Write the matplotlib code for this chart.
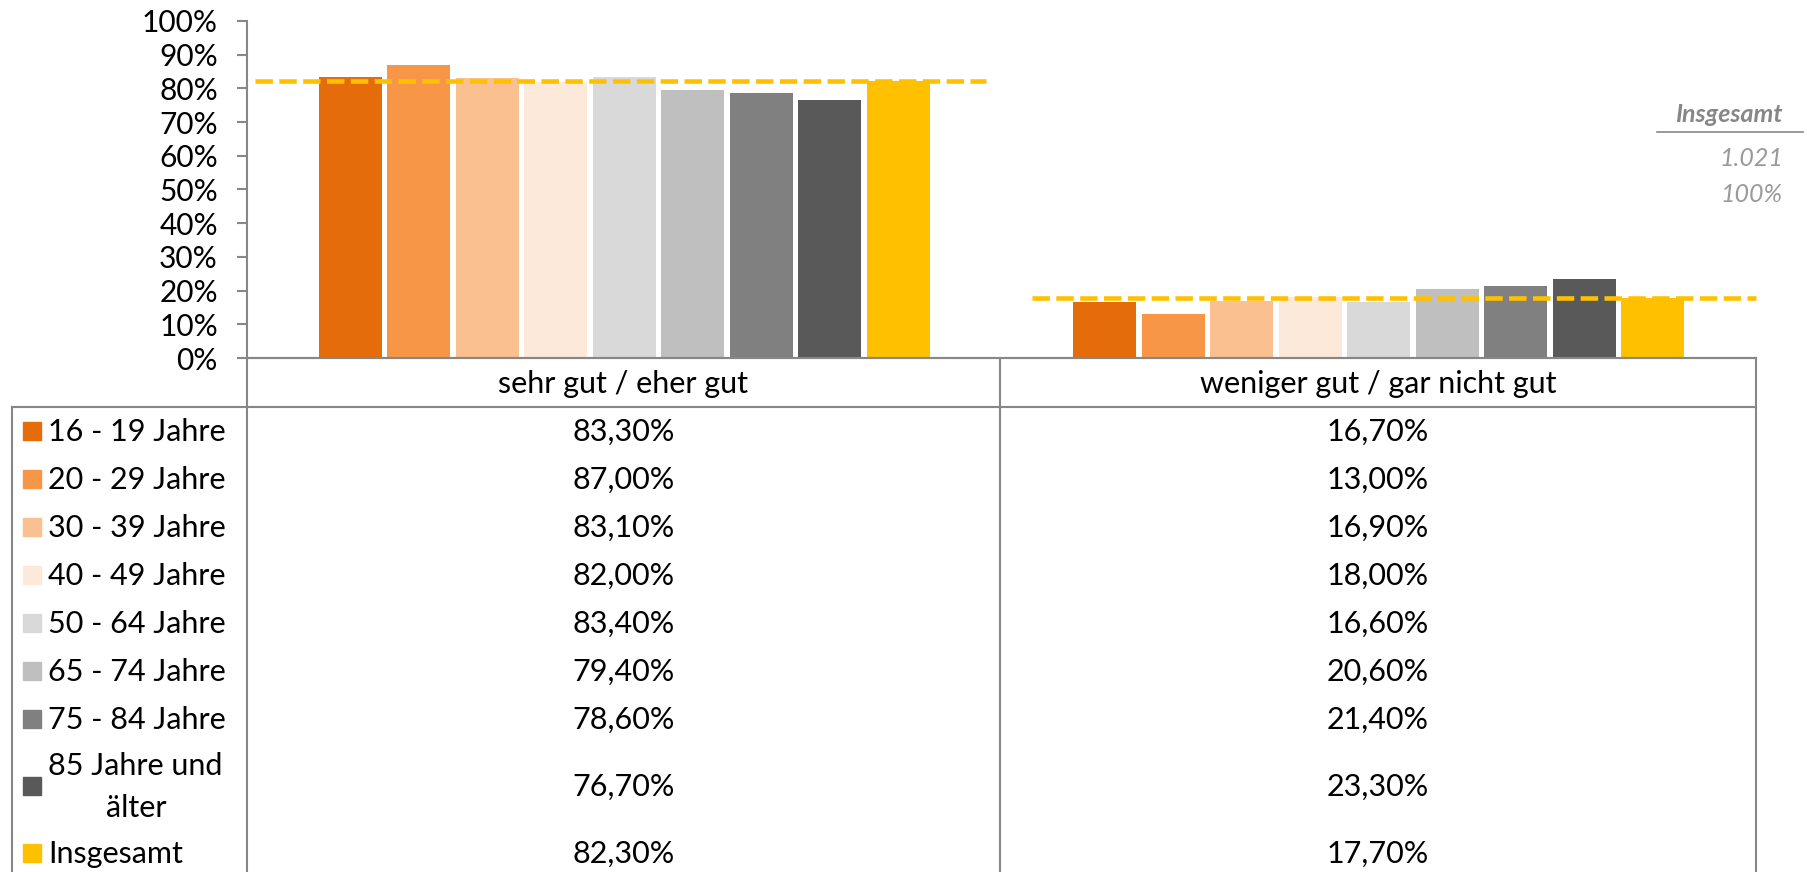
import numpy as np
import matplotlib
matplotlib.use('Agg')
from matplotlib import pyplot as plt
from matplotlib.patches import Rectangle

plt.rcParams['font.family'] = ['Lato', 'DejaVu Sans']

# data
categories = ["sehr gut / eher gut", "weniger gut / gar nicht gut"]
groups = ["16 - 19 Jahre", "20 - 29 Jahre", "30 - 39 Jahre", "40 - 49 Jahre",
          "50 - 64 Jahre", "65 - 74 Jahre", "75 - 84 Jahre", "85 Jahre und\nälter",
          "Insgesamt"]
sehr_gut = [83.3, 87.0, 83.1, 82.0, 83.4, 79.4, 78.6, 76.7, 82.3]
weniger_gut = [16.7, 13.0, 16.9, 18.0, 16.6, 20.6, 21.4, 23.3, 17.7]
total_n = "1.021"
total_pct = "100%"

colors = ["#E46C0A", "#F79646", "#FAC090", "#FDE9D9", "#D9D9D9",
          "#BFBFBF", "#808080", "#595959", "#FFC000"]
grey = "#878787"
fs = 22

W, H = 1808, 872
fig = plt.figure(figsize=(W / 100, H / 100), dpi=100)

# main bar axes, placed in pixel terms
x0, x1, ytop, ybot = 247, 1756, 21, 358
ax = fig.add_axes([x0 / W, 1 - ybot / H, (x1 - x0) / W, (ybot - ytop) / H])

values = np.array([sehr_gut, weniger_gut])  # shape (2, 9)
slot, bw = 0.0908, 0.084
xc = np.arange(len(categories))
for j in range(len(groups)):
    ax.bar(xc + (j - 4) * slot, values[:, j] / 100, width=bw, color=colors[j], zorder=2)

# Insgesamt reference lines
line_spans = [(-0.49, 0.48), (0.54, 1.5)]
for i, (a, b) in enumerate(line_spans):
    ax.plot([a, b], [values[i, -1] / 100] * 2, color="#FFC000", lw=3.3,
            linestyle=(0, (3.8, 1.4)), solid_capstyle='butt', zorder=3, clip_on=False)

ax.set_xlim(-0.5, 1.5)
ax.set_ylim(0, 1)
ax.set_yticks(np.arange(0, 1.01, 0.1))
ax.set_yticklabels(['%d%%' % v for v in range(0, 101, 10)], fontsize=21.5)
ax.set_xticks([])
for s in ['top', 'right']:
    ax.spines[s].set_visible(False)
for s in ['left', 'bottom']:
    ax.spines[s].set_color(grey)
    ax.spines[s].set_linewidth(1.5)
ax.tick_params(axis='y', length=7, width=1.5, color=grey, pad=14)

# table drawn in pixel coordinates on an overlay
tb = fig.add_axes([0, 0, 1, 1])
tb.set_xlim(0, W)
tb.set_ylim(H, 0)
tb.axis('off')

hdr_top, hdr_bot = 358, 407
col_x = [12, 247, 1000, 1756]
row_h = 48
row_heights = [row_h] * 7 + [86, row_h]
row_edges = [hdr_bot]
for h in row_heights:
    row_edges.append(row_edges[-1] + h)

lw = 1.5
tb.plot([col_x[1], col_x[3]], [hdr_top, hdr_top], color=grey, lw=lw)
tb.plot([col_x[0], col_x[3]], [hdr_bot, hdr_bot], color=grey, lw=lw)
tb.plot([col_x[0], col_x[0]], [hdr_bot, H], color=grey, lw=lw)
for cx in col_x[1:]:
    tb.plot([cx, cx], [hdr_top, H], color=grey, lw=lw)

# header
for i, cat in enumerate(categories):
    tb.text((col_x[i + 1] + col_x[i + 2]) / 2, (hdr_top + hdr_bot) / 2 + 1, cat,
            ha='center', va='center', fontsize=fs)

# body rows
for j, g in enumerate(groups):
    yc = (row_edges[j] + row_edges[j + 1]) / 2
    tb.add_patch(Rectangle((23, yc - 9), 18, 18, color=colors[j]))
    if '\n' in g:
        # wrapped label: each line centred under the first
        parts = g.split('\n')
        tb.text(48, yc - 20, parts[0], ha='left', va='center', fontsize=fs)
        tb.text(136, yc + 22, parts[1], ha='center', va='center', fontsize=fs)
    else:
        tb.text(48, yc + 1, g, ha='left', va='center', fontsize=fs)
    for i in range(len(categories)):
        txt = ('%.2f' % values[i, j]).replace('.', ',') + '%'
        tb.text((col_x[i + 1] + col_x[i + 2]) / 2, yc + 1, txt,
                ha='center', va='center', fontsize=fs)

# total box on the right
tb.text(1783, 114, "Insgesamt", ha='right', va='center', fontsize=18,
        style='italic', weight='bold', color=grey)
tb.plot([1657, 1803], [132, 132], color=grey, lw=1.2)
tb.text(1783, 158, total_n, ha='right', va='center', fontsize=18, style='italic', color="#9a9a9a")
tb.text(1783, 194, total_pct, ha='right', va='center', fontsize=18, style='italic', color="#9a9a9a")

plt.savefig("out.png", dpi=100)
plt.close()
